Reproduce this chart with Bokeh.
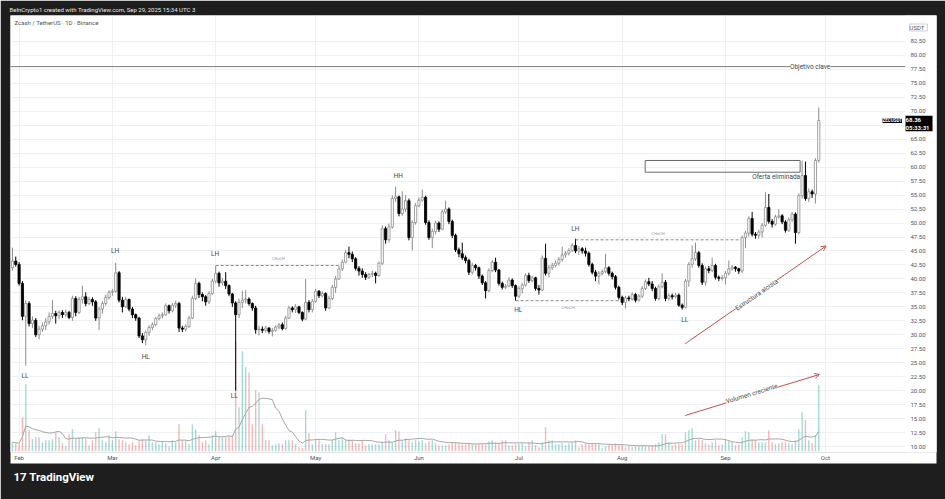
import pandas as pd
from bokeh.plotting import figure
from bokeh.models import (Range1d, FixedTicker, NumeralTickFormatter, DatetimeTickFormatter,
                          Span, Label, Arrow, OpenHead, ColumnDataSource, BoxAnnotation, Title)
from bokeh.embed import file_html
from bokeh.resources import INLINE

FONT = "Roboto"

# ---------------- data (ZEC/USDT daily) ----------------
start_date = "2025-01-30"
end_date = "2025-09-29"
first_open = 42.0

close_janfeb = [43.2, 42.6,
                39.2, 33.3, 35.6, 32.0, 32.6, 30.0, 31.0, 31.6, 32.3, 33.3, 33.8, 33.4, 34.0, 33.6,
                34.0, 33.1, 36.5, 34.0, 36.3, 36.8, 35.6, 36.3, 35.9, 33.0, 34.6, 35.6, 36.7, 37.6]
high_janfeb = [45.6, 44.0,
               43.0, 39.6, 36.2, 36.0, 33.3, 33.0, 31.6, 32.2, 33.0, 34.0, 36.2, 34.3, 34.4, 34.4,
               34.5, 34.3, 37.0, 36.9, 36.8, 38.8, 37.6, 36.8, 36.7, 36.2, 35.0, 36.0, 37.2, 38.0]
low_janfeb = [41.5, 42.2,
              38.8, 32.6, 24.5, 31.5, 31.2, 29.6, 29.2, 30.5, 30.8, 31.8, 32.8, 32.0, 32.8, 33.0,
              33.2, 32.8, 32.5, 33.3, 33.7, 35.6, 35.1, 35.3, 35.2, 32.5, 30.8, 33.8, 35.2, 36.3]

close_mar = [37.8, 41.1, 36.2, 35.0, 36.3, 34.6, 33.6, 33.0, 29.8, 29.1, 30.4, 31.3, 31.8, 32.9, 33.4, 33.6,
             35.2, 34.3, 35.3, 35.6, 31.2, 31.0, 31.5, 33.0, 36.5, 39.2, 37.2, 36.8, 35.9, 37.4, 39.6]
high_mar = [38.2, 42.9, 41.4, 36.8, 36.8, 36.5, 35.0, 33.8, 33.2, 30.3, 30.8, 31.7, 32.2, 33.2, 33.8, 34.0,
            35.6, 35.4, 35.7, 36.1, 35.9, 31.6, 31.9, 33.4, 37.0, 40.1, 39.5, 37.6, 37.1, 37.8, 40.0]
low_mar = [37.0, 37.5, 35.8, 34.0, 34.8, 34.2, 33.0, 32.5, 29.4, 28.5, 28.1, 29.8, 30.8, 31.5, 32.6, 32.9,
           33.4, 33.8, 34.0, 34.8, 30.5, 30.5, 30.6, 31.2, 32.8, 36.2, 36.6, 36.0, 35.2, 35.5, 37.1]

close_apr = [41.0, 39.3, 39.6, 38.8, 37.3, 35.7, 33.6, 35.8, 36.2, 36.4, 35.6, 34.8, 30.9, 31.0, 30.8,
             31.2, 30.6, 30.8, 31.4, 31.8, 31.1, 33.0, 34.8, 34.5, 35.0, 34.0, 32.8, 35.8, 34.5, 36.0]
high_apr = [42.4, 41.3, 40.2, 41.2, 39.0, 37.5, 36.0, 36.5, 37.9, 38.0, 36.7, 35.8, 35.2, 31.6, 31.5,
            31.6, 31.4, 31.2, 31.7, 32.1, 32.2, 33.4, 35.2, 35.1, 35.5, 35.2, 34.2, 40.0, 36.2, 36.4]
low_apr = [39.2, 38.6, 38.8, 38.2, 36.9, 35.0, 20.0, 33.0, 34.8, 35.6, 35.2, 34.3, 30.2, 29.9, 30.3,
           30.4, 30.2, 29.7, 30.6, 31.0, 30.8, 30.9, 32.8, 34.0, 33.9, 33.7, 32.4, 32.6, 34.0, 34.0]

close_may = [37.8, 37.0, 37.4, 34.8, 36.5, 38.5, 40.0, 41.8, 43.0, 44.7, 44.4, 43.6, 41.9, 41.4, 40.8, 40.3,
             40.8, 41.0, 40.6, 42.8, 49.0, 47.0, 49.3, 54.4, 54.7, 51.7, 52.5, 54.0, 47.4, 50.1, 53.1]
high_may = [38.2, 38.0, 37.8, 37.6, 37.0, 38.9, 40.5, 42.3, 43.5, 45.2, 45.8, 44.9, 43.9, 42.3, 41.9, 41.2,
            41.1, 41.5, 41.3, 43.1, 49.6, 49.4, 49.9, 55.0, 56.5, 54.9, 55.7, 55.0, 54.4, 50.5, 53.6]
low_may = [35.7, 36.6, 36.7, 34.3, 34.6, 36.2, 37.5, 39.8, 41.4, 42.8, 43.7, 43.0, 41.5, 40.6, 40.2, 39.8,
           40.0, 40.3, 39.2, 40.4, 42.5, 46.3, 46.5, 49.0, 53.8, 51.2, 51.3, 52.0, 46.9, 45.1, 49.7]

close_jun = [54.1, 54.6, 50.1, 47.4, 48.5, 50.0, 48.9, 52.0, 52.5, 50.3, 47.8, 45.2, 44.5, 43.8, 43.3,
             41.2, 42.4, 42.0, 40.5, 39.3, 37.9, 41.5, 43.0, 41.6, 39.2, 38.5, 38.7, 39.8, 38.8, 36.9]
high_jun = [54.6, 56.0, 54.9, 50.5, 49.0, 50.4, 50.3, 52.4, 54.0, 52.8, 50.6, 48.1, 45.6, 46.5, 44.2,
            43.6, 42.9, 42.7, 42.2, 40.8, 39.6, 41.9, 43.4, 43.8, 41.8, 39.5, 39.1, 40.3, 40.1, 39.0]
low_jun = [52.8, 53.8, 49.7, 47.0, 45.5, 48.0, 48.4, 48.7, 51.6, 49.8, 47.3, 44.8, 43.9, 43.4, 42.8,
           40.7, 40.8, 41.5, 40.0, 38.9, 36.5, 37.6, 41.2, 41.2, 38.8, 38.1, 38.2, 38.5, 38.4, 36.1]

close_jul = [38.3, 38.9, 40.6, 39.7, 40.2, 38.3, 38.0, 43.7, 41.0, 42.0, 42.4, 42.8, 43.5, 44.3, 44.6, 45.1,
             46.0, 45.0, 45.4, 45.0, 44.6, 42.6, 41.2, 40.5, 41.0, 41.3, 42.0, 41.0, 40.4, 38.5, 36.7]
high_jul = [38.7, 39.3, 41.0, 41.1, 40.6, 40.4, 38.9, 44.2, 46.3, 42.5, 42.9, 43.3, 43.9, 45.8, 45.0, 45.5,
            46.4, 47.2, 45.9, 45.7, 45.6, 44.9, 42.9, 41.6, 41.4, 41.7, 44.5, 42.3, 41.3, 40.7, 38.8]
low_jul = [36.6, 37.4, 38.6, 39.3, 39.4, 37.9, 37.2, 37.8, 40.6, 40.3, 41.6, 42.1, 42.4, 43.1, 43.8, 44.2,
           44.8, 44.6, 44.3, 44.5, 44.0, 42.2, 40.8, 39.6, 39.0, 40.6, 41.0, 40.6, 39.9, 38.1, 36.3]

close_aug = [35.8, 36.6, 36.4, 37.2, 36.2, 36.9, 38.3, 39.5, 39.1, 38.3, 36.5, 38.6, 39.4, 36.5, 37.0, 36.8,
             37.1, 35.3, 34.9, 39.6, 42.6, 43.6, 44.7, 42.4, 39.4, 41.8, 41.5, 42.4, 40.3, 40.1, 40.2]
high_aug = [37.0, 37.0, 37.0, 37.6, 37.5, 37.3, 38.7, 39.9, 40.2, 39.6, 38.6, 39.0, 41.0, 39.8, 37.4, 37.4,
            37.5, 37.4, 35.6, 40.0, 43.0, 46.0, 46.5, 45.0, 42.8, 42.2, 42.3, 43.8, 42.7, 40.6, 40.7]
low_aug = [35.3, 34.7, 36.0, 36.1, 35.8, 35.9, 36.6, 38.0, 38.7, 37.8, 36.1, 36.2, 38.3, 36.0, 36.1, 36.3,
           36.5, 35.0, 34.5, 34.7, 38.6, 42.0, 43.2, 42.0, 38.9, 38.8, 41.0, 41.2, 39.9, 39.6, 39.7]

close_sep = [41.0, 41.8, 42.1, 41.8, 41.4, 47.4, 48.2, 50.8, 48.0, 47.8, 48.4, 49.6, 52.8, 50.3, 49.8,
             51.1, 51.3, 50.2, 48.7, 50.6, 51.6, 48.3, 54.9, 58.5, 54.4, 55.6, 55.2, 61.2, 68.36]
high_sep = [41.4, 43.3, 42.5, 42.3, 42.0, 47.8, 48.6, 51.2, 52.0, 48.4, 48.8, 50.0, 55.5, 55.2, 50.7,
            51.5, 52.5, 51.6, 50.5, 51.0, 52.0, 51.9, 55.3, 61.2, 61.0, 56.2, 56.0, 61.6, 70.7]
low_sep = [39.0, 40.6, 41.5, 41.3, 40.9, 41.0, 45.5, 47.6, 47.6, 47.2, 47.2, 47.4, 49.3, 49.9, 49.2,
           49.5, 50.8, 49.8, 48.3, 48.4, 50.2, 46.3, 48.0, 54.4, 54.0, 53.8, 54.5, 53.5, 60.8]

# volume, thousand ZEC per day (Jan 30 .. Sep 29)
volume_k = [
    180, 160, 140, 680, 1340, 420, 240, 280, 280, 180,
    220, 220, 240, 380, 280, 160, 100, 340, 440, 260,
    280, 280, 260, 120, 220, 380, 460, 220, 180, 320,
    220, 400, 240, 220, 180, 140, 180, 120, 220, 240,
    220, 320, 180, 180, 140, 200, 160, 100, 220, 180,
    540, 220, 220, 140, 540, 440, 320, 180, 220, 140,
    320, 400, 280, 280, 280, 300, 320, 2200, 880, 2000,
    1680, 1580, 540, 1220, 1180, 540, 220, 220, 120, 140,
    160, 140, 220, 220, 220, 140, 80, 60, 820, 360,
    140, 220, 220, 140, 140, 140, 220, 380, 220, 260,
    240, 240, 220, 160, 160, 220, 120, 140, 140, 140,
    140, 180, 340, 220, 180, 420, 400, 220, 260, 220,
    180, 220, 200, 220, 160, 200, 220, 160, 120, 120,
    120, 140, 180, 180, 160, 140, 140, 160, 140, 140,
    140,
    140, 140, 200, 220, 180, 160, 220, 220, 120, 120,
    140, 140, 160, 100, 180, 220, 120, 80, 180, 480,
    220, 220, 140, 140, 160, 120, 160, 180, 220, 80,
    140, 160, 140, 160, 140, 140, 60, 100, 140, 140,
    160, 120, 120, 80, 100, 80, 100, 100, 100, 100,
    100, 120, 140, 180, 340, 340, 180, 120, 140, 140,
    140, 380, 420, 460, 220, 240, 220, 160, 140, 180,
    220, 120, 140, 240, 200, 180, 120, 140, 280, 400,
    380, 240, 220, 180, 180, 180, 420, 180, 140, 160,
    180, 180, 160, 140, 220, 440, 780, 620, 220, 160,
    320, 1320]

volume_ma_length = 12

price_ticks = [10.0, 12.5, 15.0, 17.5, 20.0, 22.5, 25.0, 27.5, 30.0, 32.5, 35.0, 37.5, 40.0, 42.5,
               45.0, 47.5, 50.0, 52.5, 55.0, 57.5, 60.0, 62.5, 65.0, 67.5, 70.0, 72.5, 75.0, 77.5,
               80.0, 82.5]
month_ticks = ["2025-02-01", "2025-03-01", "2025-04-01", "2025-05-01", "2025-06-01",
               "2025-07-01", "2025-08-01", "2025-09-01", "2025-10-01"]

# market-structure annotations (days after Feb 1, price)
struct_text = ["LL", "LH", "HL", "LH", "LL", "HH", "HL", "LH", "LL"]
struct_day = [1.8, 28.8, 38.0, 58.8, 64.6, 113.8, 149.8, 166.9, 199.8]
struct_price = [22.6, 45.0, 26.1, 44.4, 19.0, 58.5, 34.35, 49.0, 32.6]

choch_day0 = [59.0, 149.0, 167.0]
choch_day1 = [96.8, 180.7, 216.7]
choch_price = [42.4, 36.1, 47.0]
choch_label_day = [77.8, 164.8, 191.8]
choch_label_price = [43.65, 34.9, 48.1]

target_price = 78.0
supply_box = dict(day0=187.9, day1=234.4, top=61.2, bottom=59.1)

# ---------------- derived ----------------
close = close_janfeb + close_mar + close_apr + close_may + close_jun + close_jul + close_aug + close_sep
high = high_janfeb + high_mar + high_apr + high_may + high_jun + high_jul + high_aug + high_sep
low = low_janfeb + low_mar + low_apr + low_may + low_jun + low_jul + low_aug + low_sep
dates = pd.date_range(start_date, end_date, freq="D")
n = len(dates)
assert len(close) == n and len(high) == n and len(low) == n and len(volume_k) == n

opens = [first_open] + close[:-1]
up = [c >= o for o, c in zip(opens, close)]
body_top = [max(o, c) for o, c in zip(opens, close)]
body_bot = [min(o, c) for o, c in zip(opens, close)]
hi = [max(h, t) for h, t in zip(high, body_top)]
lo = [min(l, b) for l, b in zip(low, body_bot)]
vol_ma = pd.Series(volume_k, dtype=float).rolling(volume_ma_length, min_periods=1).mean().tolist()

src = ColumnDataSource(dict(
    date=dates, top=body_top, bottom=body_bot, high=hi, low=lo, vol=volume_k, ma=vol_ma,
    body_fill=["#ffffff" if u else "#000000" for u in up],
    body_line=["#8c8c8c" if u else "#000000" for u in up],
    wick=["#8c8c8c" if u else "#000000" for u in up],
    vol_color=["#26a69a" if u else "#ef5350" for u in up],
))

DAY = 86400000.0
FEB1 = pd.Timestamp("2025-02-01")


def dms(days):
    return (FEB1 + pd.Timedelta(days=days)).timestamp() * 1000.0


# ---------------- figure ----------------
DARK = "#1e1e1e"
p = figure(width=945, height=499, x_axis_type="datetime",
           x_range=(dms(-2.58), dms(275.33)), y_range=(8.926, 87.154),
           y_axis_location="right", output_backend="svg", toolbar_location=None,
           min_border_left=10, min_border_right=9, min_border_top=15, min_border_bottom=47)
p.extra_y_ranges = {"vol": Range1d(-26, 8714)}
p.background_fill_color = "#ffffff"
p.border_fill_color = DARK
p.outline_line_color = None

# header (title) and footer
p.title.text = "BeInCrypto1 created with TradingView.com, Sep 29, 2025 15:34 UTC 3"
p.title.align = "left"
p.title.offset = -1
p.title.standoff = 5
p.title.text_font = FONT
p.title.text_font_size = "6px"
p.title.text_font_style = "normal"
p.title.text_color = "#e6e6e6"
p.add_layout(Title(text="17  TradingView", align="left", offset=3, standoff=12,
                   vertical_align="top",
                   text_font=FONT, text_font_size="11.5px", text_font_style="bold",
                   text_color="#ffffff", background_fill_color=DARK), "below")

# price axis (labels drawn inside the white strip at the right of the frame)
p.yaxis.ticker = FixedTicker(ticks=price_ticks)
p.yaxis.formatter = NumeralTickFormatter(format="0.00")
p.yaxis.major_label_text_font = FONT
p.yaxis.major_label_text_font_size = "6px"
p.yaxis.major_label_text_color = "#50535e"
p.yaxis.axis_line_color = None
p.yaxis.major_tick_line_color = None
p.yaxis.major_tick_in = 0
p.yaxis.major_tick_out = 0
p.yaxis.minor_tick_line_color = None
p.yaxis.major_label_standoff = -26

month_ms = [pd.Timestamp(m).timestamp() * 1000.0 for m in month_ticks]
p.xaxis.ticker = FixedTicker(ticks=month_ms)
p.xaxis.formatter = DatetimeTickFormatter(days="%b", months="%b", years="%b", hours="%b",
                                          minutes="%b", seconds="%b", milliseconds="%b",
                                          microseconds="%b", hourmin="%b", minsec="%b")
p.xaxis.major_label_text_font = FONT
p.xaxis.major_label_text_font_size = "6px"
p.xaxis.major_label_text_color = "#50535e"
p.xaxis.axis_line_color = None
p.xaxis.major_tick_line_color = None
p.xaxis.minor_tick_line_color = None
p.xaxis.major_tick_in = 0
p.xaxis.major_tick_out = 0
p.xaxis.major_label_standoff = 1
p.xaxis.background_fill_color = "#ffffff"

p.xgrid.ticker = FixedTicker(ticks=month_ms)
p.ygrid.ticker = FixedTicker(ticks=price_ticks)
p.xgrid.grid_line_color = "#eef0f3"
p.ygrid.grid_line_color = "#eef0f3"

# target line (under the price-scale strip)
p.add_layout(Span(location=target_price, dimension="width", line_color="#7d7d7d", line_width=1,
                  level="underlay"))
# white price-scale strip (covers grid lines)
p.add_layout(BoxAnnotation(left=dms(265.94), fill_color="#ffffff", fill_alpha=1.0,
                           line_color=None, level="underlay"))

# volume + MA
p.vbar(x="date", top="vol", bottom=0, width=0.42 * DAY, y_range_name="vol", source=src,
       fill_color="vol_color", fill_alpha=0.42, line_color=None)
p.line(x="date", y="ma", y_range_name="vol", source=src, line_color="#a6a6a6", line_width=1)

# candles
p.segment(x0="date", y0="low", x1="date", y1="high", source=src, line_color="wick", line_width=1)
p.vbar(x="date", top="top", bottom="bottom", width=0.66 * DAY, source=src,
       fill_color="body_fill", line_color="body_line", line_width=0.8)

p.add_layout(Label(x=dms(237.4), y=target_price, text="Objetivo clave", text_align="center",
                   text_baseline="middle", text_font=FONT, text_font_size="6.5px",
                   text_color="#444444", background_fill_color="#ffffff"))

# supply box
p.quad(left=[dms(supply_box["day0"])], right=[dms(supply_box["day1"])],
       top=[supply_box["top"]], bottom=[supply_box["bottom"]],
       fill_color="#ffffff", fill_alpha=0.0, line_color="#6a6a6a", line_width=1)
p.add_layout(Label(x=dms(supply_box["day1"]), y=58.2, text="Oferta eliminada", text_align="right",
                   text_baseline="middle", text_font=FONT, text_font_size="6.5px",
                   text_color="#444444"))

# CHoCH lines
p.segment(x0=[dms(d) for d in choch_day0], y0=choch_price,
          x1=[dms(d) for d in choch_day1], y1=choch_price,
          line_color="#8a8a8a", line_width=1, line_dash="3 2")
for d, pr in zip(choch_label_day, choch_label_price):
    p.add_layout(Label(x=dms(d), y=pr, text="CHoCH", text_align="center", text_baseline="middle",
                       text_font=FONT, text_font_size="4px", text_color="#9a9a9a"))

# structure labels
for t, d, pr in zip(struct_text, struct_day, struct_price):
    p.add_layout(Label(x=dms(d), y=pr, text=t, text_align="center", text_baseline="middle",
                       text_font=FONT, text_font_size="6.5px", text_color="#4a4a4a"))

# arrows
ARROW_COLOR = "#c0504d"
p.add_layout(Arrow(end=OpenHead(size=5, line_color=ARROW_COLOR, line_width=1),
                   x_start=dms(199.9), y_start=28.4, x_end=dms(242.2), y_end=45.9,
                   line_color=ARROW_COLOR, line_width=1))
p.add_layout(Label(x=dms(221.4), y=37.15, text="Estructura alcista", angle=0.606, angle_units="rad",
                   text_align="center", text_baseline="middle", text_font=FONT,
                   text_font_size="6.5px", text_color="#444444", background_fill_color="#ffffff"))
p.add_layout(Arrow(end=OpenHead(size=5, line_color=ARROW_COLOR, line_width=1),
                   x_start=dms(199.9), y_start=15.55, x_end=dms(240.2), y_end=22.9,
                   line_color=ARROW_COLOR, line_width=1))
p.add_layout(Label(x=dms(219.9), y=19.43, text="Volumen creciente", angle=0.297, angle_units="rad",
                   text_align="center", text_baseline="middle", text_font=FONT,
                   text_font_size="6.5px", text_color="#444444", background_fill_color="#ffffff"))

# texts inside the frame (screen units relative to the frame)
p.add_layout(Label(x=4, y=430, x_units="screen", y_units="screen",
                   text="Zcash / TetherUS · 1D · Binance", text_baseline="middle",
                   text_font=FONT, text_font_size="6px", text_color="#555555"))
p.add_layout(Label(x=899, y=425, x_units="screen", y_units="screen", text=" USDT ",
                   text_baseline="middle", text_font=FONT, text_font_size="6px",
                   text_color="#50535e", border_line_color="#d0d0d0",
                   background_fill_color="#ffffff"))
p.add_layout(Label(x=872, y=close[-1], x_units="screen", text="ZECUSDT",
                   text_baseline="middle", text_font=FONT, text_font_size="4.5px",
                   text_font_style="bold", text_color="#ffffff", background_fill_color="#000000"))
p.add_layout(Label(x=895, y=close[-1] - 0.55, x_units="screen",
                   text=" %.2f \n 05:33:31 " % close[-1],
                   text_baseline="middle", text_font=FONT, text_font_size="6px",
                   text_font_style="bold", text_color="#ffffff", background_fill_color="#000000"))

open("out.html", "w").write(file_html(p, INLINE))
